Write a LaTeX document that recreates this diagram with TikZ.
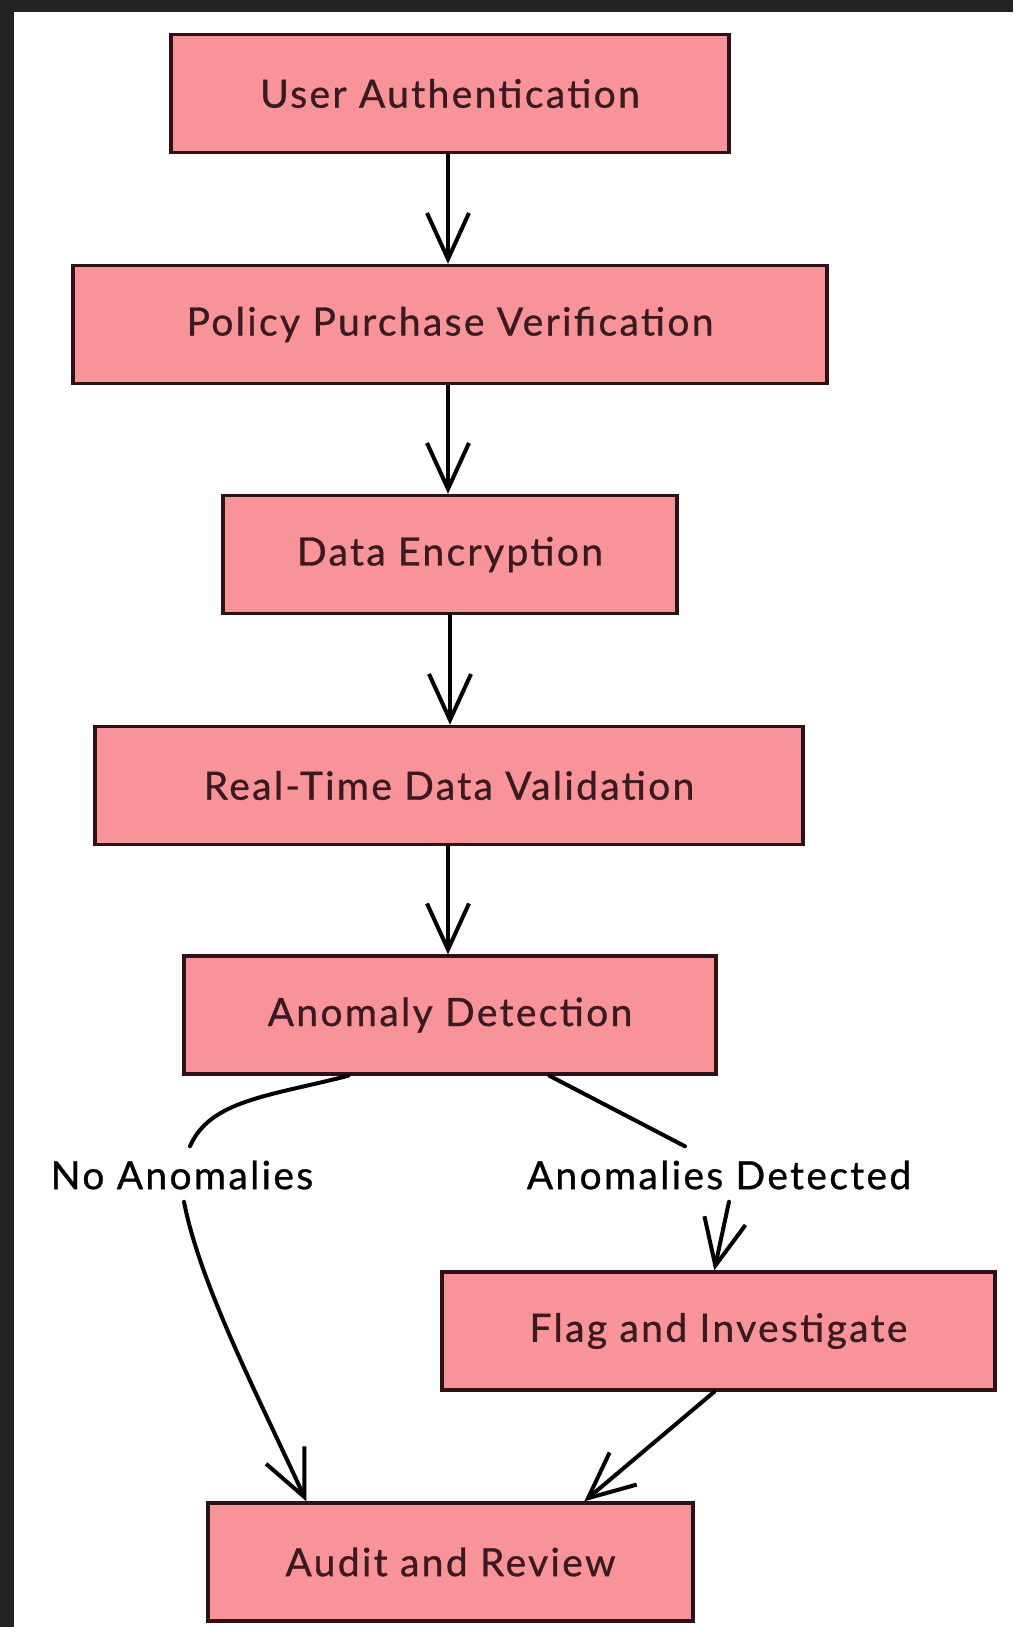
\documentclass[tikz,border=0pt]{standalone}
\usepackage{fontspec}
\setmainfont{Lato}
\newfontfamily\boxfont[LetterSpace=6, FakeBold=0.8]{Lato}
\usetikzlibrary{arrows.meta,calc}
\definecolor{boxfill}{HTML}{F9939A}
\definecolor{boxline}{HTML}{2E1216}
\definecolor{boxtext}{HTML}{3A1A20}
\definecolor{band}{HTML}{222222}
\tikzset{
  stepbox/.style={draw=boxline, line width=3.4pt, fill=boxfill, text=boxtext,
    minimum height=118pt, inner sep=0pt, font=\boxfont\fontsize{39}{44}\selectfont},
  lbl/.style={text=black, inner sep=2pt, font=\boxfont\fontsize{39}{44}\selectfont},
  conn/.style={draw=black, line width=4pt, line cap=round},
  arr/.style={conn, -{Straight Barb[length=46pt,width=42pt]}},
}
\begin{document}
\begin{tikzpicture}[x=1pt,y=-1pt]
\useasboundingbox (0,0) rectangle (1013,1627);
\fill[white] (0,0) rectangle (1013,1627);
\fill[band] (0,0) rectangle (1013,12);
\fill[band] (0,0) rectangle (14,1627);

\node[stepbox, minimum width=558pt] (ua) at (450,93.5) {User Authentication};
\node[stepbox, minimum width=754pt] (ppv) at (450,324.5) {Policy Purchase Verification};
\node[stepbox, minimum width=454pt] (de) at (450,554.5) {Data Encryption};
\node[stepbox, minimum width=708pt] (rtdv) at (449,785.5) {Real-Time Data Validation};
\node[stepbox, minimum width=532pt] (ad) at (450,1015) {Anomaly Detection};
\node[stepbox, minimum width=553pt] (fi) at (718.5,1331) {Flag and Investigate};
\node[stepbox, minimum width=485pt] (ar) at (450.5,1562) {Audit and Review};

\node[lbl] (na) at (182,1175) {No Anomalies};
\node[lbl] (adl) at (719,1175) {Anomalies Detected};

\draw[arr] (ua.south -| 448,0) -- (ppv.north -| 448,0);
\draw[arr] (ppv.south -| 448,0) -- (de.north -| 448,0);
\draw[arr] (de.south -| 450,0) -- (rtdv.north -| 450,0);
\draw[arr] (rtdv.south -| 448,0) -- (ad.north -| 448,0);

\draw[conn] ($(ad.south west)+(166,0)$) .. controls (270,1096) and (210,1100) .. ($(na.north)+(8,-12)$);
\draw[arr] ($(na.south)+(2,10)$) .. controls (200,1285) and (260,1400) .. ($(ar.north west)+(100,0)$);

\draw[conn] ($(ad.south west)+(367,0)$) -- ($(adl.north)+(-34,-12)$);
\draw[arr] ($(adl.south)+(10,10)$) -- ($(fi.north west)+(274,0)$);
\draw[arr] ($(fi.south west)+(274,0)$) -- ($(ar.north west)+(378,0)$);
\end{tikzpicture}
\end{document}
